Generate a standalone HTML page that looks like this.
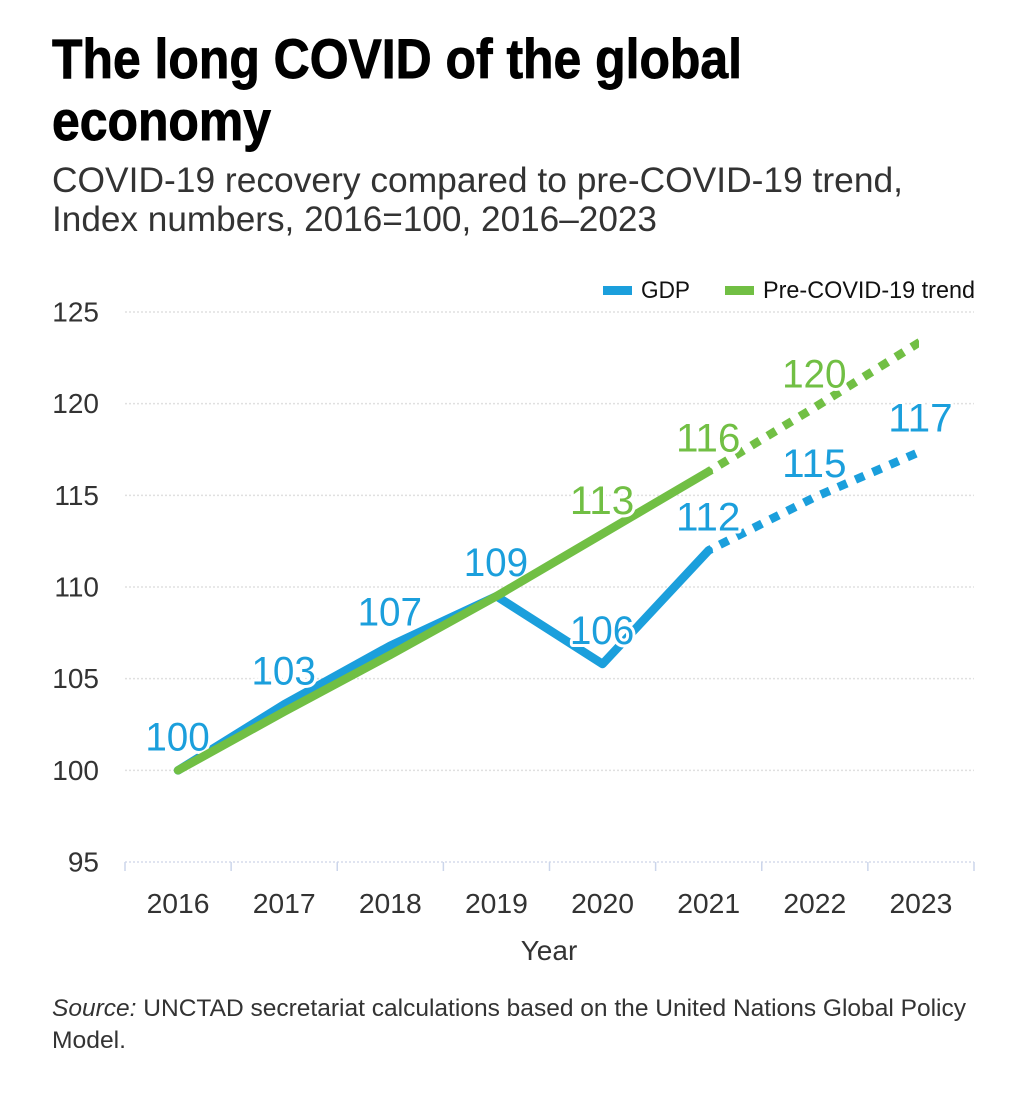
<!DOCTYPE html>
<html lang="en">
<head>
<meta charset="utf-8">
<title>The long COVID of the global economy</title>
<style>
html,body{margin:0;padding:0;background:#fff;width:1036px;height:1108px;overflow:hidden}
svg{display:block}
text{font-family:"Liberation Sans",sans-serif}
.title{font-size:56px;font-weight:700;fill:#000;stroke:#000;stroke-width:.9px}
.sub{font-size:35px;fill:#333}
.tick{font-size:28px;fill:#333}
.legend{font-size:24px;fill:#111}
.src{font-size:24.4px;fill:#333}
.lab{font-size:39.5px;paint-order:stroke;stroke:#fff;stroke-width:6px;stroke-linejoin:round;text-anchor:middle}
</style>
</head>
<body>
<svg id="chart" xmlns="http://www.w3.org/2000/svg" width="1036" height="1108" viewBox="0 0 1036 1108">
  <rect x="0" y="0" width="1036" height="1108" fill="#fff"/>
  <text class="title" x="52" y="78" textLength="690" lengthAdjust="spacingAndGlyphs">The long COVID of the global</text>
  <text class="title" x="52" y="140" textLength="219" lengthAdjust="spacingAndGlyphs">economy</text>
  <text class="sub" x="52" y="192" textLength="851" lengthAdjust="spacingAndGlyphs">COVID-19 recovery compared to pre-COVID-19 trend,</text>
  <text class="sub" x="52" y="231" textLength="605" lengthAdjust="spacingAndGlyphs">Index numbers, 2016=100, 2016–2023</text>

  <g id="grid"></g>
  <g id="xaxis"></g>
  <g id="yaxis"></g>
  <g id="series"></g>

  <g>
    <rect x="603" y="286" width="29" height="9" fill="#1b9fdc"/>
    <text class="legend" x="641" y="298" textLength="49" lengthAdjust="spacingAndGlyphs">GDP</text>
  </g>
  <g>
    <rect x="725" y="286" width="29" height="9" fill="#71bf44"/>
    <text class="legend" x="763" y="298" textLength="212" lengthAdjust="spacingAndGlyphs">Pre-COVID-19 trend</text>
  </g>

  <text class="tick" x="549" y="960" text-anchor="middle">Year</text>
  <text class="src" x="52" y="1016" textLength="914" lengthAdjust="spacingAndGlyphs"><tspan font-style="italic">Source:</tspan> UNCTAD secretariat calculations based on the United Nations Global Policy</text>
  <text class="src" x="52" y="1048" textLength="74" lengthAdjust="spacingAndGlyphs">Model.</text>
</svg>

<script>
const categories = ["2016","2017","2018","2019","2020","2021","2022","2023"];
const gdpValues = [100, 103.6, 106.8, 109.5, 105.8, 112, 114.9, 117.4];
const trendValues = [100, 103.2, 106.3, 109.5, 112.9, 116.3, 119.8, 123.4];
const gdpLabels = ["100","103","107","109","106","112","115","117"];
const trendLabels = ["","","","","113","116","120",""];
const yTicks = [95, 100, 105, 110, 115, 120, 125];

const NS = "http://www.w3.org/2000/svg";
const plotLeft = 125, plotRight = 974, plotTop = 312, plotBottom = 862;
const yMin = 95, yMax = 125;
const band = (plotRight - plotLeft) / categories.length;
function xScale(i){ return plotLeft + band * (i + 0.5); }
function yScale(v){ return plotBottom - (v - yMin) / (yMax - yMin) * (plotBottom - plotTop); }
function make(tag, parent){
  const el = document.createElementNS(NS, tag);
  parent.appendChild(el);
  return el;
}
function pathFrom(values, from, to){
  let d = "";
  for (let i = from; i <= to; i++){
    d += (i === from ? "M" : "L") + xScale(i).toFixed(2) + " " + yScale(values[i]).toFixed(2);
  }
  return d;
}

const grid = document.getElementById("grid");
const xaxis = document.getElementById("xaxis");
const yaxis = document.getElementById("yaxis");
const series = document.getElementById("series");

yTicks.forEach(function(t){
  const line = make("line", grid);
  
  
  line.setAttribute("x1", plotLeft);
  line.setAttribute("x2", plotRight);
  line.setAttribute("y1", yScale(t));
  line.setAttribute("y2", yScale(t));
  line.setAttribute("stroke", t === yMin ? "#d5dcec" : "#e0e0e0");
  line.setAttribute("stroke-width", "1.5");
  line.setAttribute("stroke-dasharray", "2 2");
  const label = make("text", yaxis);
  
  
  label.setAttribute("class", "tick");
  label.setAttribute("x", 99);
  label.setAttribute("y", yScale(t) + 9.5);
  label.setAttribute("text-anchor", "end");
  label.textContent = t;
});

for (let i = 0; i <= categories.length; i++){
  const tick = make("line", xaxis);
  
  
  const tx = plotLeft + band * i;
  tick.setAttribute("x1", tx);
  tick.setAttribute("x2", tx);
  tick.setAttribute("y1", plotBottom);
  tick.setAttribute("y2", plotBottom + 9);
  tick.setAttribute("stroke", "#ccd6eb");
  tick.setAttribute("stroke-width", "1.5");
}
categories.forEach(function(c, i){
  const label = make("text", xaxis);
  
  
  label.setAttribute("class", "tick");
  label.setAttribute("x", xScale(i));
  label.setAttribute("y", 913);
  label.setAttribute("text-anchor", "middle");
  label.setAttribute("textLength", "63");
  label.setAttribute("lengthAdjust", "spacingAndGlyphs");
  label.textContent = c;
});

/* clip so the dashed projection ends in a clean vertical cut */
const defs = make("defs", series);
const clip = make("clipPath", defs);
clip.setAttribute("id", "plot-clip");
const clipRect = make("rect", clip);
clipRect.setAttribute("x", 0);
clipRect.setAttribute("y", 0);
clipRect.setAttribute("width", xScale(categories.length - 1) - 2);
clipRect.setAttribute("height", 1108);

const BLUE = "#1b9fdc", GREEN = "#71bf44";
const lastActual = 5;

function drawLine(values, colour, from, to, dashed){
  const p = make("path", series);
  p.setAttribute("d", pathFrom(values, from, to));
  p.setAttribute("fill", "none");
  p.setAttribute("stroke", colour);
  p.setAttribute("stroke-width", "8.5");
  p.setAttribute("stroke-linejoin", "round");
  if (dashed){
    p.setAttribute("stroke-dasharray", "9.5 9.3");
    p.setAttribute("stroke-dashoffset", "-12.5");
    p.setAttribute("clip-path", "url(#plot-clip)");
  } else {
    p.setAttribute("stroke-linecap", "round");
  }
  return p;
}
function drawLabel(text, i, value, colour){
  const t = make("text", series);
  
  
  t.setAttribute("class", "lab");
  t.setAttribute("x", xScale(i) - 0.5);
  t.setAttribute("y", yScale(value) - 20);
  t.setAttribute("textLength", "64.5");
  t.setAttribute("lengthAdjust", "spacingAndGlyphs");
  t.setAttribute("fill", colour);
  t.textContent = text;
}

const gdpSolid = drawLine(gdpValues, BLUE, 0, lastActual, false);


const gdpDashed = drawLine(gdpValues, BLUE, lastActual, categories.length - 1, true);


gdpLabels.forEach(function(text, i){ drawLabel(text, i, gdpValues[i], BLUE); });

const trendSolid = drawLine(trendValues, GREEN, 0, lastActual, false);


const trendDashed = drawLine(trendValues, GREEN, lastActual, categories.length - 1, true);


trendLabels.forEach(function(text, i){
  if (text) { drawLabel(text, i, trendValues[i], GREEN); }
});
</script>
</body>
</html>
